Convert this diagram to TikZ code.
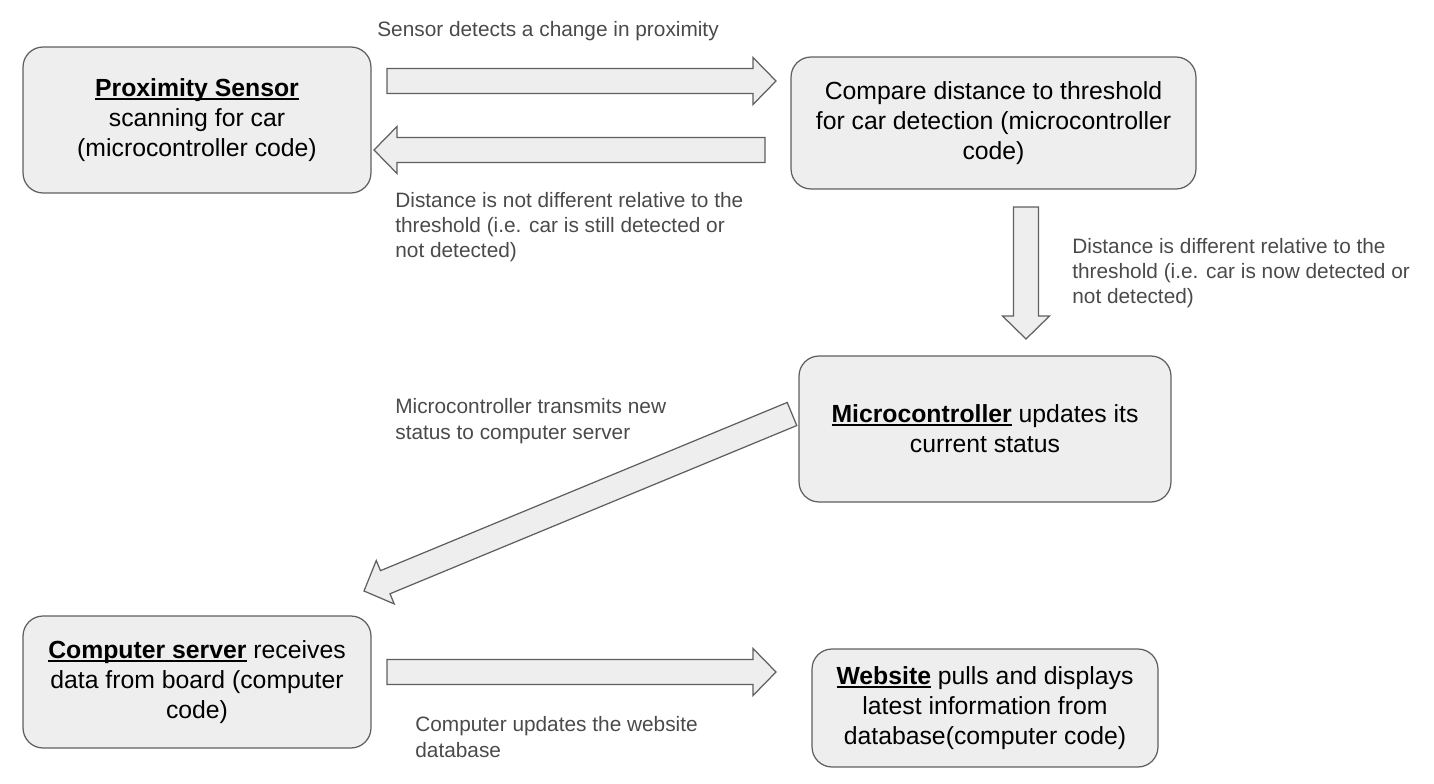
\documentclass[tikz,border=0pt]{standalone}
\usepackage{fontspec}
\setmainfont{Liberation Sans}
\usetikzlibrary{positioning,calc}
\definecolor{boxfill}{HTML}{EEEEEE}
\definecolor{boxline}{HTML}{5F5F5F}
\definecolor{lbltext}{HTML}{4A4A4A}
\newcommand{\uword}[1]{\setbox0\hbox{\textbf{#1}}\rlap{\rule[-1.7pt]{\wd0}{1.1pt}}\box0\relax}
\newcommand{\blockarrow}[2]{%
  \coordinate (hb) at ($(#2)!0.46cm!(#1)$);
  \draw[blockarr] ($(#1)!0.25cm!90:(#2)$) -- ($(hb)!0.25cm!90:(#2)$)
    -- ($(hb)!0.47cm!90:(#2)$) -- (#2) -- ($(hb)!0.47cm!-90:(#2)$)
    -- ($(hb)!0.25cm!-90:(#2)$) -- ($(#1)!0.25cm!-90:(#2)$) -- cycle;
}

\begin{document}
\begin{tikzpicture}
[x=0.02cm, y=-0.02cm,
    box/.style={rectangle, rounded corners=0.4cm, fill=boxfill, draw=boxline,
    line width=0.7pt, align=center, inner sep=0pt,
    font=\fontsize{14.1}{17}\selectfont},
    lbl/.style={anchor=west, align=left, inner sep=0pt, text=lbltext,
    font=\fontsize{11.85}{14.4}\selectfont},
    blockarr/.style={fill=boxfill, draw=boxline, line width=0.7pt, line join=miter}
    ]
    \useasboundingbox (0,0) rectangle (1434,784);

    % boxes
    \node[box, minimum width=6.96cm, minimum height=2.92cm] (prox) at (197,120)
        {\uword{Proximity Sensor}\\ scanning for car\\ (microcontroller code)};
    \node[box, minimum width=8.1cm, minimum height=2.64cm] (comp) at (993.5,123)
        {Compare distance to threshold\\ for car detection (microcontroller\\ code)};
    \node[box, minimum width=7.44cm, minimum height=2.92cm] (micro) at (985,429)
        {\uword{Microcontroller} updates its\\ current status};
    \node[box, minimum width=6.96cm, minimum height=2.64cm] (server) at (197,682)
        {\uword{Computer server} receives\\ data from board (computer\\ code)};
    \node[box, minimum width=6.92cm, minimum height=2.36cm] (web) at (985,708)
        {\uword{Website} pulls and displays\\ latest information from\\ database(computer code)};

    % arrow ends
    \coordinate (s1) at (387,81);   \coordinate (t1) at (776,81);
    \coordinate (s2) at (765,150);  \coordinate (t2) at (374,150);
    \coordinate (s3) at (1026,207); \coordinate (t3) at (1026,339);
    \coordinate (s4) at (792,414);  \coordinate (t4) at (364,591);
    \coordinate (s5) at (387,672);  \coordinate (t5) at (776,672);

    \blockarrow{s1}{t1}
    \blockarrow{s2}{t2}
    \blockarrow{s3}{t3}
    \blockarrow{s4}{t4}
    \blockarrow{s5}{t5}

    % labels
    \node[lbl] (l1) at (377,31) {Sensor detects a change in proximity};
    \node[lbl] (l2) at (395,227) {Distance is not different relative to the\\ threshold (i.e. car is still detected or\\ not detected)};
    \node[lbl] (l3) at (1072,273) {Distance is different relative to the\\ threshold (i.e. car is now detected or\\ not detected)};
    \node[lbl] (l4) at (395,421) {Microcontroller transmits new\\ status to computer server};
    \node[lbl] (l5) at (415,737) {Computer updates the website\\ database};
\end{tikzpicture}
\end{document}
